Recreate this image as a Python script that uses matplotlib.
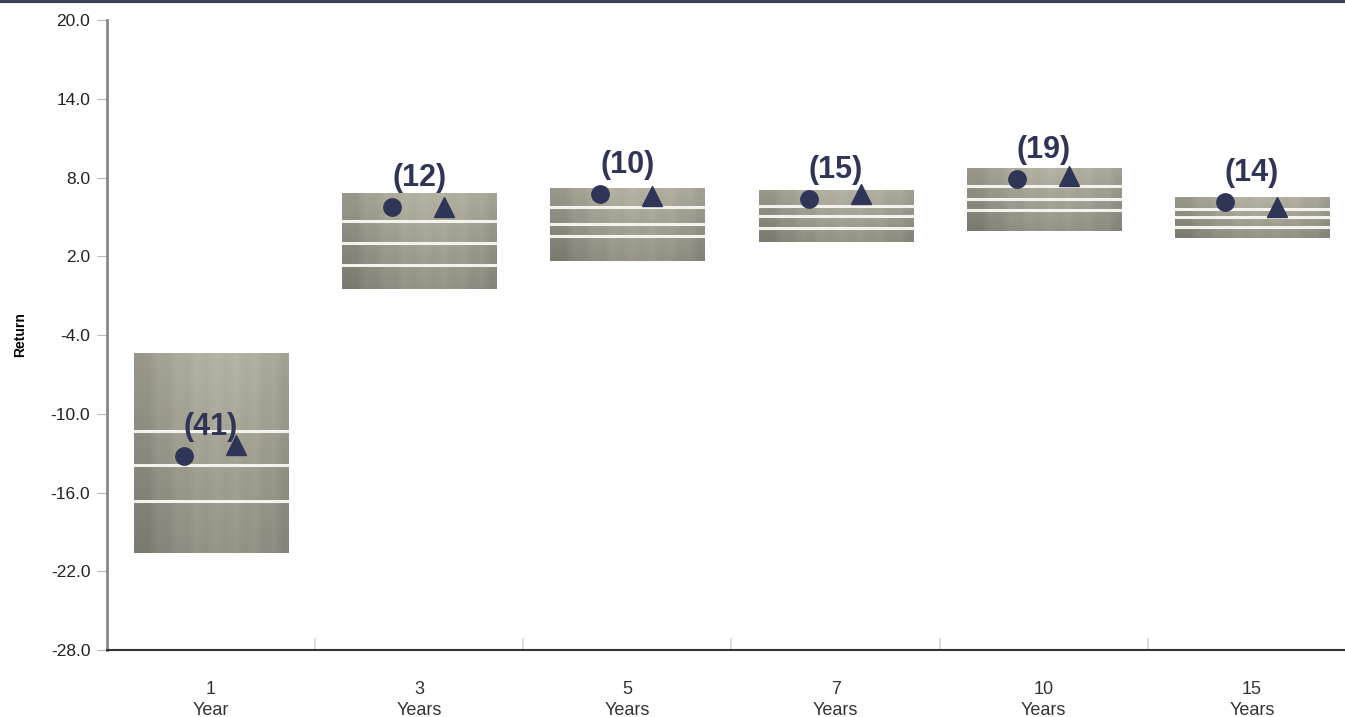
import numpy as np
import matplotlib.pyplot as plt
from matplotlib.lines import Line2D

periods = ['1\nYear', '3\nYears', '5\nYears', '7\nYears', '10\nYears', '15\nYears']
# percentile ranges of the universe: 5th, 25th, median, 75th, 95th
p95 = [-5.4, 6.8, 7.2, 7.05, 8.7, 6.45]
p75 = [-11.3, 4.7, 5.75, 5.85, 7.35, 5.6]
p50 = [-13.9, 3.0, 4.45, 5.05, 6.35, 5.0]
p25 = [-16.65, 1.35, 3.55, 4.15, 5.5, 4.25]
p05 = [-20.6, -0.5, 1.65, 3.1, 3.9, 3.4]
portfolio = [-13.2, 5.75, 6.75, 6.35, 7.9, 6.1]
benchmark = [-12.35, 5.75, 6.6, 6.75, 8.1, 5.75]
ranks = [41, 12, 10, 15, 19, 14]

navy = '#2f3557'

fig = plt.figure(figsize=(13.45, 7.17), dpi=100)
ax = fig.add_axes([107 / 1345, 67 / 717, 1249 / 1345, 630 / 717])

# shaded texture for the floating bars
ny, nx = 80, 16
xs = (np.arange(nx) + 0.5) / nx
ys = np.linspace(1, 0, ny)
h = np.clip(1 - ((xs - 0.58) / 0.6) ** 2, 0, 1)
stripe = np.where(np.arange(nx) % 2 == 0, 0.012, -0.012)
bright = 0.45 + 0.14 * h[None, :] + 0.12 * ys[:, None] + stripe[None, :]
tex = np.dstack([bright, bright * 0.985, bright * 0.90])
tex = np.clip(tex, 0, 1)

w = 0.74
x = np.arange(1, len(periods) + 1)
for i in range(len(periods)):
    ax.imshow(tex, extent=[x[i] - w / 2, x[i] + w / 2, p05[i], p95[i]],
              aspect='auto', interpolation='bilinear', zorder=2)
    for v in (p75[i], p50[i], p25[i]):
        ax.plot([x[i] - w / 2, x[i] + w / 2], [v, v], color='#f3f2ec', lw=2.2, zorder=3)

ax.plot(x - 0.13, portfolio, 'o', color=navy, ms=12.5, zorder=4)
ax.plot(x + 0.12, benchmark, '^', color=navy, ms=14, zorder=4)
for i in range(len(periods)):
    ax.annotate('(%d)' % ranks[i], (x[i], portfolio[i]), xytext=(0, 21),
                textcoords='offset points', ha='center', va='center',
                fontsize=22, fontweight='bold', color=navy,
                family='Liberation Sans', zorder=5)

ax.set_xlim(0.5, len(periods) + 0.5)
ax.set_ylim(-28, 20)
ax.set_yticks(np.arange(-28, 21, 6))
ax.set_yticklabels(['%.1f' % v for v in np.arange(-28, 21, 6)],
                   family='Liberation Sans', fontsize=12.5, color='#222222')
ax.tick_params(axis='y', length=7, color='#bbbbbb', pad=5)
ax.set_xticks(x)
ax.set_xticklabels(periods, family='Liberation Sans', fontsize=13,
                   color='#333333', linespacing=1.35)
ax.tick_params(axis='x', length=0, pad=22)
ax.set_xticks(np.arange(1.5, len(periods), 1), minor=True)
ax.tick_params(axis='x', which='minor', length=9, width=1.5,
               direction='in', color='#dddddd')
ax.set_ylabel('Return', family='Liberation Sans', fontsize=10,
              fontweight='bold', labelpad=17)

for s in ('top', 'right'):
    ax.spines[s].set_visible(False)
ax.spines['left'].set_color('#888888')
ax.spines['left'].set_linewidth(2)
ax.spines['bottom'].set_color('#333333')
ax.spines['bottom'].set_linewidth(1.5)

fig.add_artist(Line2D([0, 1], [0.998, 0.998], color='#3a3f55', lw=3,
                      transform=fig.transFigure))

fig.savefig('out.png', dpi=100)
